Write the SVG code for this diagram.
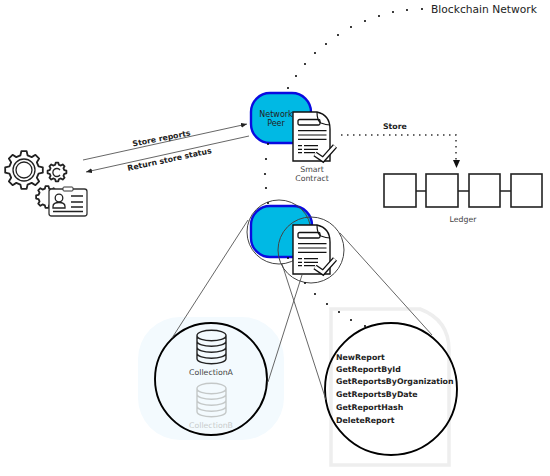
<svg xmlns="http://www.w3.org/2000/svg" width="550" height="476" viewBox="0 0 550 476">
<style>
text{font-family:"DejaVu Sans",sans-serif;fill:#222}
.b{font-weight:bold;font-size:7.800px}
.s{font-size:7.800px;fill:#444}
.m{text-anchor:middle}
.peer{fill:#00b9e4;stroke:#0a0ae0;stroke-width:2.400}
.thin{fill:none;stroke:#555;stroke-width:.9}
.ring{fill:none;stroke:#444;stroke-width:1}
.big{fill:none;stroke:#000;stroke-width:1.900}
.dot{fill:none;stroke:#111;stroke-width:2.200;stroke-linecap:round}
.sq{fill:#fff;stroke:#222;stroke-width:1.600}
.i{fill:none;stroke:#222;stroke-width:1.300}
</style>
<defs>
<marker id="a" markerWidth="7" markerHeight="6" refX="6" refY="3" orient="auto" markerUnits="userSpaceOnUse"><path d="M0 .5L6 3L0 5.500z" fill="#222"/></marker>
<path id="gear" fill="#fff" stroke="#222" stroke-width="1.800" stroke-linejoin="round" vector-effect="non-scaling-stroke" d="M.766-.191L.99-.139L.99.139L.766.191L.677.406L.798.602L.602.798L.406.677L.191.766L.139.99L-.139.99L-.191.766L-.406.677L-.602.798L-.798.602L-.677.406L-.766.191L-.99.139L-.99-.139L-.766-.191L-.677-.406L-.798-.602L-.602-.798L-.406-.677L-.191-.766L-.139-.99L.139-.99L.191-.766L.406-.677L.602-.798L.798-.602L.677-.406z"/>
<g id="doc">
<path d="M0 0H24Q37 3 37 17V49H0z" fill="#fff" stroke="#111" stroke-width="1.400"/>
<path d="M24 0Q24 9 28 11Q33 13 37 13" fill="none" stroke="#111" stroke-width="1.200"/>
<rect x="5" y="7.500" width="22" height="5.500" rx="1.500" fill="none" stroke="#111" stroke-width="1.300"/>
<path d="M5 18.700H33.500M5 23H33.500M5 27.300H33.500M5 33.700H9M11 33.700H25M5 37.300H9M11 37.300H25M5 40.700H9M11 40.700H22" stroke="#111" stroke-width="1.200" fill="none"/>
<path d="M22 42L30 47.500L42 34" fill="none" stroke="#111" stroke-width="5.500"/>
<path d="M22 42L30 47.500L42 34" fill="none" stroke="#fff" stroke-width="2.800"/>
</g>
<path id="cyl" d="M0 5.500C0-1.500 29-1.500 29 5.500V28.500C29 35.500 0 35.500 0 28.500zM0 5.500C0 12.500 29 12.500 29 5.500M0 11C0 18 29 18 29 11M0 17C0 24 29 24 29 17M0 23C0 30 29 30 29 23" fill="none" stroke-width="1.400"/>
</defs>

<g id="collections">
<rect x="138" y="317" width="146" height="123" rx="42" fill="#f3fafe"/>
<circle class="big" cx="211" cy="379" r="56"/>
<use href="#cyl" x="197" y="330" stroke="#222"/>
<text class="s m" x="211" y="375">CollectionA</text>
<use href="#cyl" x="197" y="383" stroke="#c4c8c8"/>
<text class="s m" x="211" y="428" style="fill:#c8cccc">CollectionB</text>
</g>

<g id="functions">
<path d="M331 309H420Q449 320 449 350V465H331z" fill="none" stroke="#eeeeee" stroke-width="3.500"/>
<circle class="big" cx="391" cy="389" r="66"/>
<text class="b" x="336" y="360">NewReport</text>
<text class="b" x="336" y="372">GetReportById</text>
<text class="b" x="336" y="384">GetReportsByOrganization</text>
<text class="b" x="336" y="397">GetReportsByDate</text>
<text class="b" x="336" y="410">GetReportHash</text>
<text class="b" x="336" y="423">DeleteReport</text>
</g>

<g id="connectors">
<path class="thin" d="M248 220L172 338M340 233L432 335M282 264L326 400M302 275L268 382"/>
<path class="thin" d="M83 160L247 124" marker-end="url(#a)"/>
<path class="thin" d="M249 136L86 172" marker-end="url(#a)"/>
<path d="M341 135H456V161" fill="none" stroke="#333" stroke-width="1.500" stroke-dasharray="1.500 4.500"/>
<path d="M453 160H460L456.500 168z" fill="#111"/>
<path d="M416 191H426M458 191H469M500 191H511" stroke="#222" stroke-width="1.500"/>
<text class="b" transform="translate(162 141) rotate(-11)" text-anchor="middle">Store reports</text>
<text class="b" transform="translate(170 162) rotate(-12)" text-anchor="middle">Return store status</text>
<text class="b" x="383" y="129">Store</text>
</g>

<g id="blockchain-network"><text x="431" y="13" font-size="10.700">Blockchain Network</text></g>

<g id="client">
<use href="#gear" transform="translate(24 170) scale(19)"/>
<circle cx="24" cy="170" r="11" class="i" stroke-width="1.600"/>
<circle cx="24" cy="170" r="8" class="i"/>
<use href="#gear" transform="translate(57 172) scale(9.500)"/>
<path d="M60 170A4 4 0 1 0 60 175" class="i"/>
<use href="#gear" transform="translate(47 197) scale(11)"/>
<rect x="49" y="189" width="38" height="27" rx="2.500" fill="#fff" stroke="#333" stroke-width="1.300"/>
<rect x="63" y="187" width="10" height="4" rx="1" fill="#fff" stroke="#333" stroke-width="1"/>
<circle cx="59" cy="198" r="3.800" class="i"/>
<path d="M53 206.500Q53 202.500 59 202.500Q65 202.500 65 206.500V208H53z" class="i"/>
<path d="M71 196H83M71 202H83M71 207H83M53 211.500H83" class="i"/>
</g>

<g id="network-peer">
<rect class="peer" x="251" y="93" width="60" height="50" rx="19"/>
<text class="m" x="276" y="117" font-size="8">Network</text>
<text class="m" x="276" y="126" font-size="8">Peer</text>
</g>
<g id="smart-contract">
<use href="#doc" x="293" y="112"/>
<text class="s m" x="312" y="172">Smart</text>
<text class="s m" x="312" y="181">Contract</text>
</g>

<g id="ledger">
<rect class="sq" x="384" y="174" width="32" height="33"/>
<rect class="sq" x="426" y="174" width="32" height="33"/>
<rect class="sq" x="469" y="174" width="31" height="33"/>
<rect class="sq" x="511" y="174" width="31" height="33"/>
<text class="s m" x="463" y="222">Ledger</text>
</g>

<g id="peer-detail">
<rect class="peer" x="251" y="206" width="61" height="51" rx="19"/>
<circle class="ring" cx="279" cy="232" r="32"/>
</g>
<g id="contract-detail">
<use href="#doc" x="293" y="225"/>
<circle class="ring" cx="311" cy="250" r="33"/>
</g>

<g id="dotted-links">
<path class="dot" d="M288 88h0M296 76h0M305 64h0M315 53h0M326 44h0M338 35h0M351 27h0M365 21h0M379 16h0M393 12h0M407 10h0M422 9h0"/>
<path class="dot" d="M268 144h0M266 159h0M265 174h0M266 188h0M268 203h0"/>
<path class="dot" d="M288 258h0M305 283h0M315 294h0M327 304h0M339 312h0M351 320h0M365 326h0"/>
</g>
</svg>
